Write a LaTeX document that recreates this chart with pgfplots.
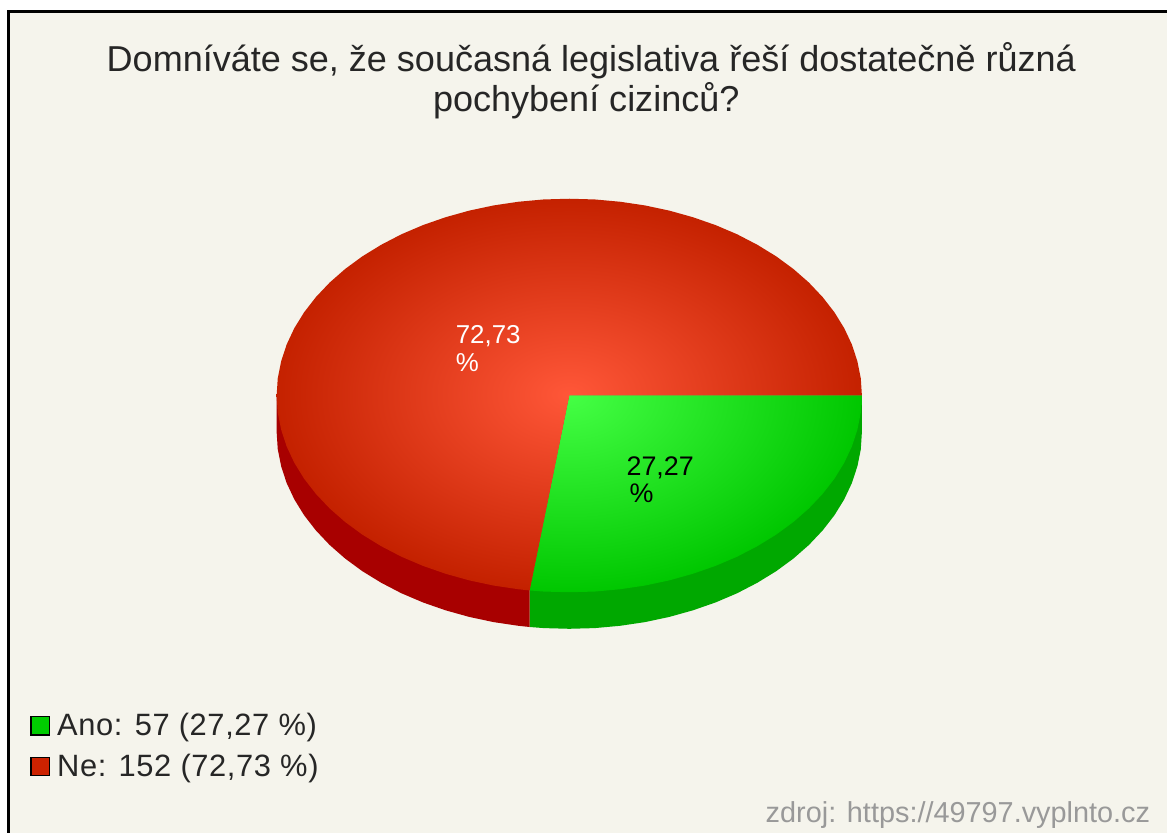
\documentclass[border=0pt]{standalone}
\usepackage{fontspec}
\setmainfont{Liberation Sans}
\usepackage{pgfplots}
\pgfplotsset{compat=1.18}

\definecolor{bgcol}{HTML}{F5F4EC}
\definecolor{anocol}{HTML}{00CC00}
\definecolor{necol}{HTML}{CC2200}
\definecolor{anoside}{HTML}{00A800}
\definecolor{neside}{HTML}{A80000}
\definecolor{srccol}{HTML}{999999}
% a path's box covers the middle 50bp of a shading, so the rim of the pie is at 25bp
\pgfdeclareradialshading{piered}{\pgfpoint{0bp}{0bp}}{rgb(0bp)=(1,0.34,0.22); rgb(25bp)=(0.77,0.13,0); rgb(50bp)=(0.77,0.13,0)}
\pgfdeclareradialshading{piegreen}{\pgfpoint{0bp}{0bp}}{rgb(0bp)=(0.27,1,0.27); rgb(25bp)=(0,0.78,0); rgb(50bp)=(0,0.78,0)}

\begin{document}
\begin{tikzpicture}
\begin{axis}[
    width=584bp, height=417bp,
    scale only axis,
    xmin=-1, xmax=1167,
    ymin=0, ymax=834,
    y dir=reverse,
    axis lines=none,
    clip=false,
    legend style={at={(axis cs:29.5,710)}, anchor=north west, draw=none, fill=none,
        inner sep=0pt, outer sep=0pt, text=black!85, font=\fontsize{15.5}{17}\selectfont\addfontfeature{LetterSpace=2},
        cells={anchor=west}, row sep=3.8bp},
    legend cell align=left,
]
% page
\fill[white] (axis cs:-1,0) rectangle (axis cs:1167,834);
\fill[bgcol] (axis cs:8,12) rectangle (axis cs:1167,834);
\draw[black, line width=1.5bp] (axis cs:8,834) -- (axis cs:8,12) -- (axis cs:1167,12);

% side walls
\addplot[forget plot, fill=anoside, draw=none] coordinates {
    (569,396) (862,396) (862,432.6) (860.9,449.8) (857.5,466.8) (852,483.6) (844.3,500)
    (834.5,515.9) (822.7,531.1) (809,545.6) (793.5,559.2) (776.2,571.9) (757.3,583.5)
    (737.1,594) (715.5,603.2) (692.8,611.1) (669.2,617.7) (644.8,622.9) (619.9,626.6)
    (594.5,628.9) (569,629.6) (543.5,628.9) (529.3,627.8) (529.3,591.2) (569,396)
};
\addplot[forget plot, fill=neside, draw=none] coordinates {
    (569,396) (529.3,591.2) (529.3,627.8) (518.1,626.6) (493.2,622.9) (468.8,617.7)
    (445.2,611.1) (422.5,603.2) (400.9,594) (380.7,583.5) (361.8,571.9) (344.5,559.2)
    (329,545.6) (315.3,531.1) (303.5,515.9) (293.7,500) (286,483.6) (280.5,466.8)
    (277.1,449.8) (276,432.6) (276,396) (569,396)
};

% top: Ano (the two spikes only stretch the shading box to the whole ellipse)
\addplot[forget plot, shade, shading=piegreen, draw=none] coordinates {
    (569,396) (276,396) (569,396) (569,199) (569,396)
    (862,396) (860.9,413.2) (857.5,430.2) (852,447) (844.3,463.4) (834.5,479.3)
    (822.7,494.5) (809,509) (793.5,522.6) (776.2,535.3) (757.3,546.9) (737.1,557.4)
    (715.5,566.6) (692.8,574.5) (669.2,581.1) (644.8,586.3) (619.9,590) (594.5,592.3)
    (569,593) (543.5,592.3) (529.3,591.2) (569,396)
};

% top: Ne
\addplot[forget plot, shade, shading=piered, draw=none] coordinates {
    (569,396) (529.3,591.2) (518.1,590) (493.2,586.3) (468.8,581.1) (445.2,574.5)
    (422.5,566.6) (400.9,557.4) (380.7,546.9) (361.8,535.3) (344.5,522.6) (329,509)
    (315.3,494.5) (303.5,479.3) (293.7,463.4) (286,447) (280.5,430.2) (277.1,413.2)
    (276,396) (277.1,378.8) (280.5,361.8) (286,345) (293.7,328.6) (303.5,312.7)
    (315.3,297.5) (329,283) (344.5,269.4) (361.8,256.7) (380.7,245.1) (400.9,234.6)
    (422.5,225.4) (445.2,217.5) (468.8,210.9) (493.2,205.7) (518.1,202) (543.5,199.7)
    (569,199) (594.5,199.7) (619.9,202) (644.8,205.7) (669.2,210.9) (692.8,217.5)
    (715.5,225.4) (737.1,234.6) (757.3,245.1) (776.2,256.7) (793.5,269.4) (809,283)
    (822.7,297.5) (834.5,312.7) (844.3,328.6) (852,345) (857.5,361.8) (860.9,378.8)
    (862,396) (569,396)
};

% legend
\addlegendimage{legend image code/.code={\draw[black, line width=0.6bp, fill=anocol] (0bp,-4.6bp) rectangle (9.4bp,4.6bp); \path (10.9bp,0bp);}}
\addlegendentry{Ano: 57 (27,27 \%)}
\addlegendimage{legend image code/.code={\draw[black, line width=0.6bp, fill=necol] (0bp,-4.6bp) rectangle (9.4bp,4.6bp); \path (10.9bp,0bp);}}
\addlegendentry{Ne: 152 (72,73 \%)}

% title
\node[anchor=base, inner sep=0pt, font=\fontsize{18.1}{20}\selectfont, text=black!85] at (axis cs:591,72) {Domníváte se, že současná legislativa řeší dostatečně různá};
\node[anchor=base, inner sep=0pt, font=\fontsize{18.1}{20}\selectfont, text=black!85] at (axis cs:586,112) {pochybení cizinců?};

% slice labels
\node[anchor=base west, inner sep=0pt, font=\fontsize{13}{16}\selectfont, text=white] at (axis cs:455,344) {72,73};
\node[anchor=base west, inner sep=0pt, font=\fontsize{13}{16}\selectfont, text=white] at (axis cs:455,372) {\%};
\node[anchor=base west, inner sep=0pt, font=\fontsize{13.5}{16}\selectfont, text=black] at (axis cs:626,476) {27,27};
\node[anchor=base west, inner sep=0pt, font=\fontsize{13.5}{16}\selectfont, text=black] at (axis cs:629,503) {\%};

% source
\node[anchor=base east, inner sep=0pt, font=\fontsize{14.5}{16}\selectfont, text=srccol] at (axis cs:1151,824) {zdroj: https://49797.vyplnto.cz};
\end{axis}
\end{tikzpicture}
\end{document}
